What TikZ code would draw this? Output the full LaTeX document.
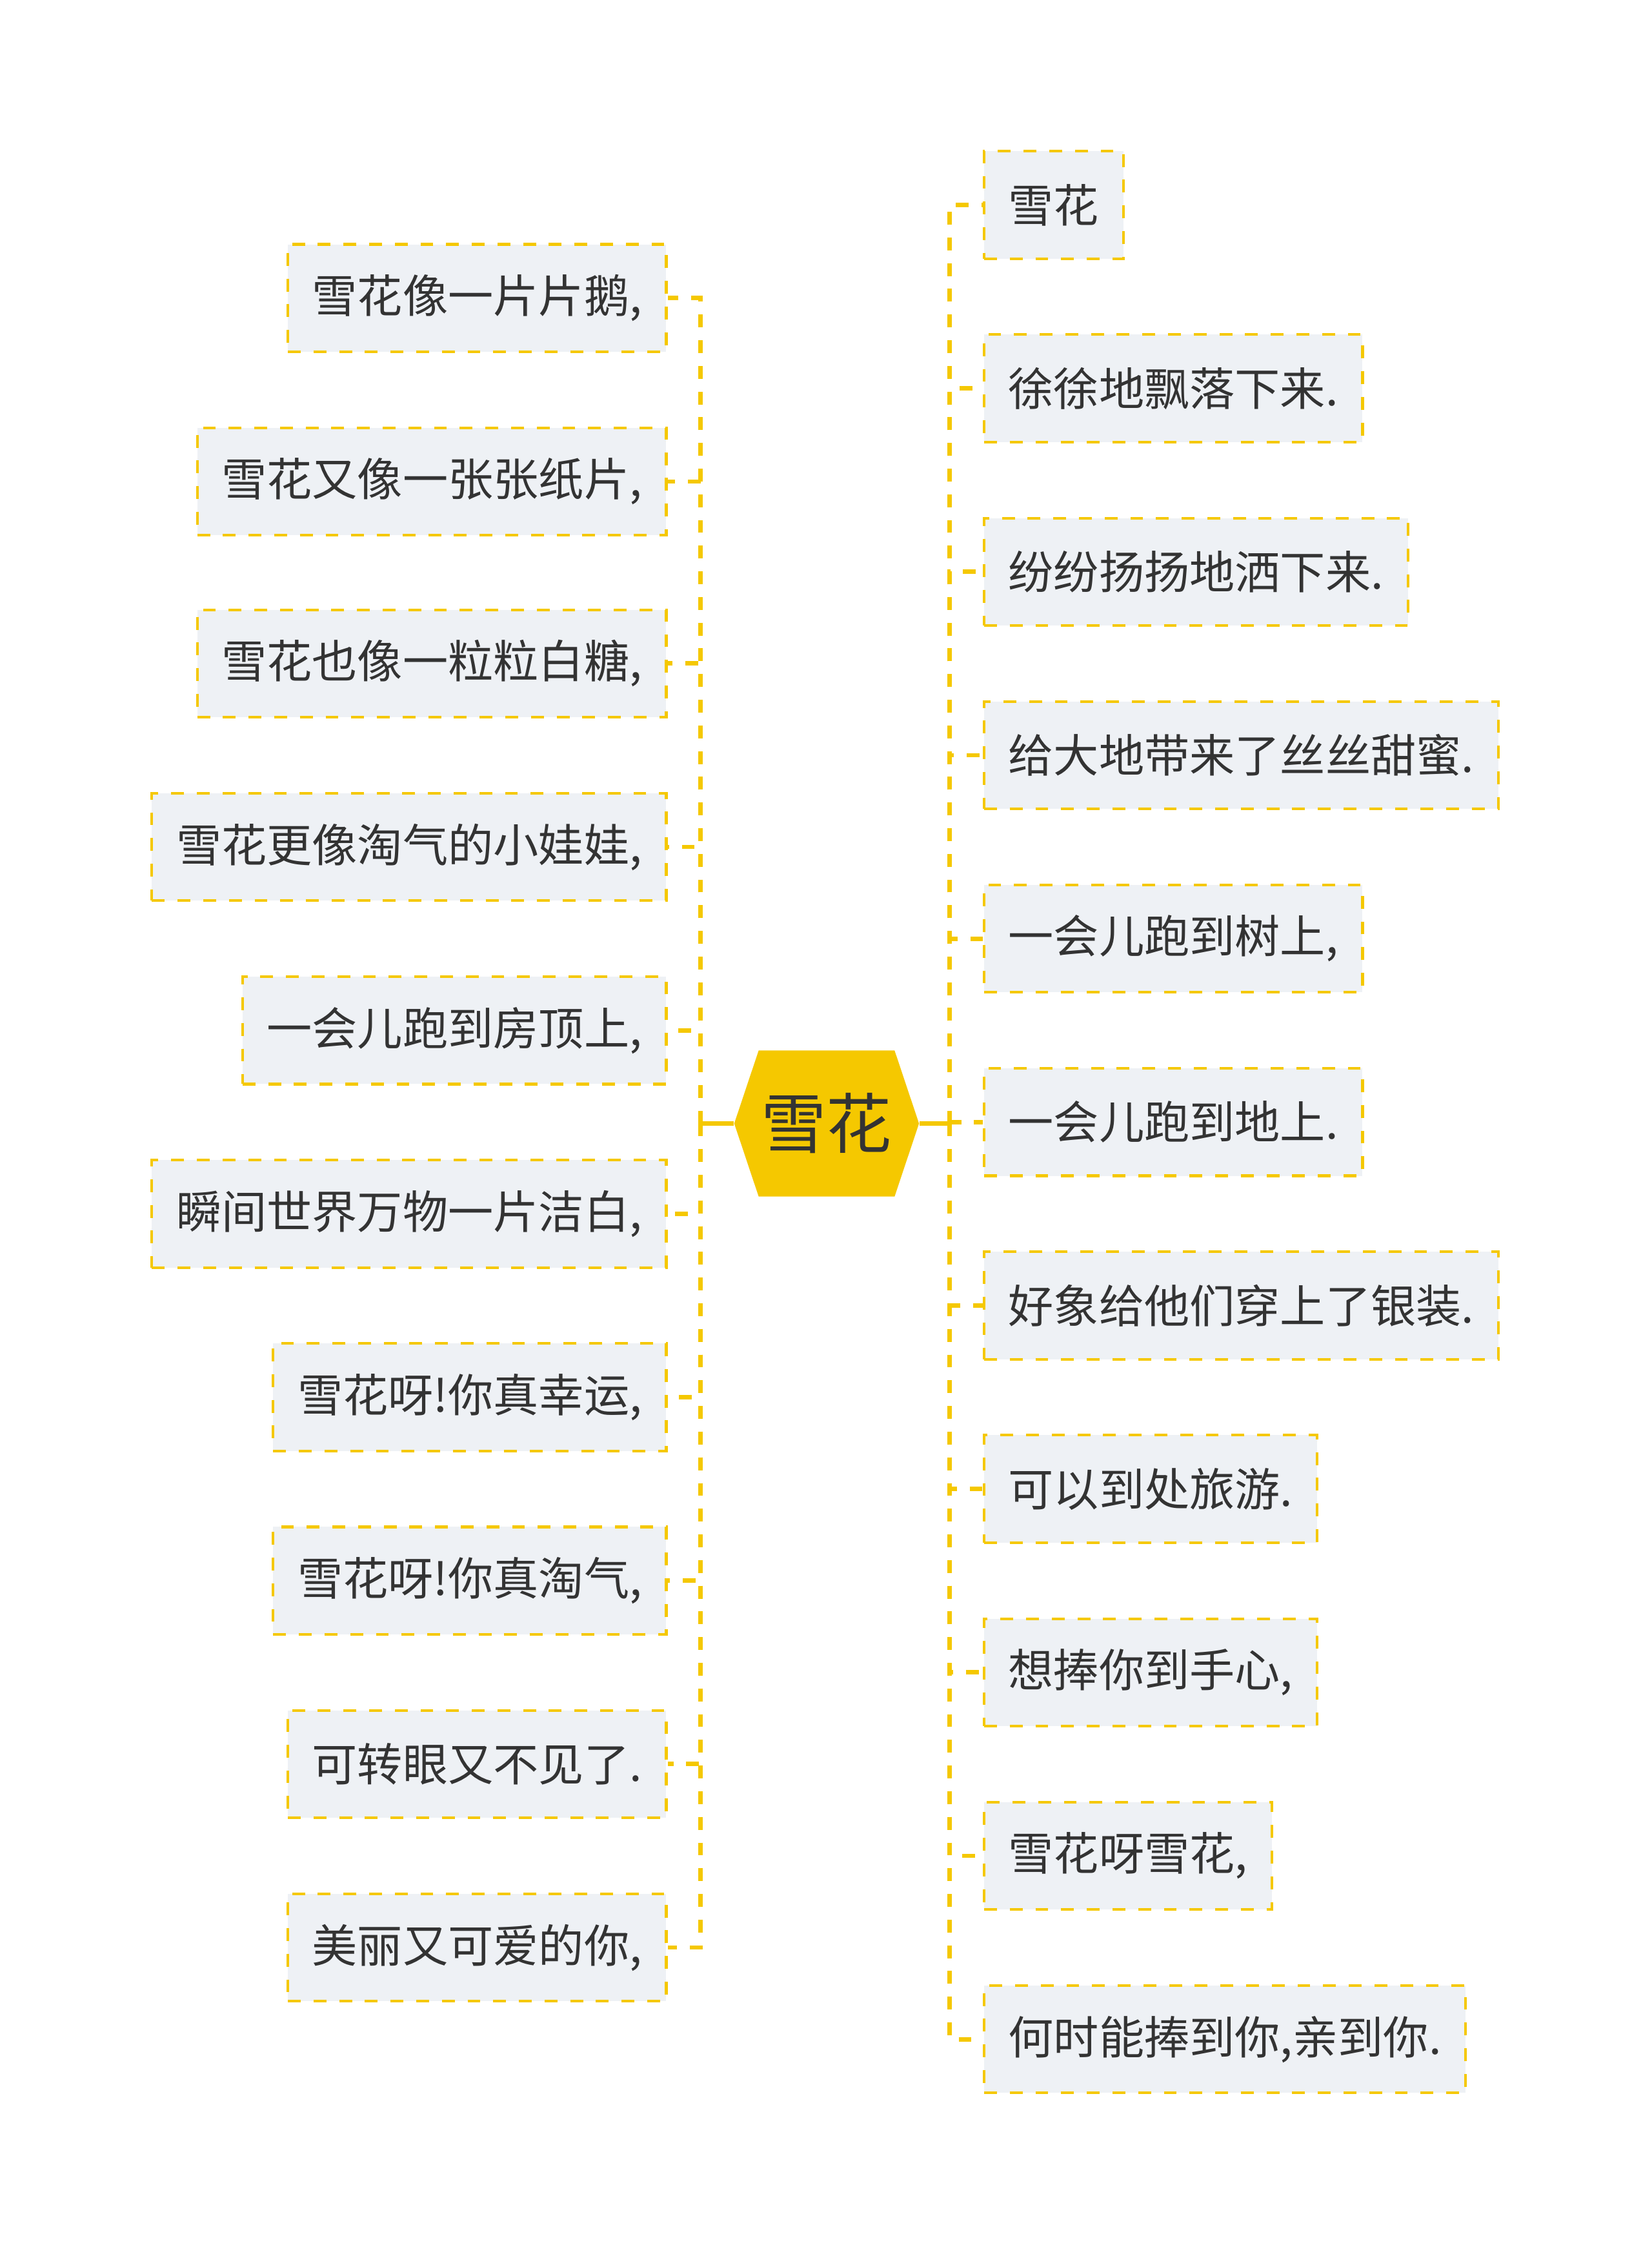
\documentclass[tikz,border=0pt]{standalone}
\usepackage{fontspec}
\setmainfont{Noto Sans CJK SC}
\usetikzlibrary{shapes.symbols}
\definecolor{snowgold}{HTML}{F5C800}
\definecolor{leafgray}{HTML}{EEF1F5}
\definecolor{inkgray}{HTML}{333333}
\tikzstyle{hub} = [signal, signal to=east and west, signal pointer angle=143, minimum width=2.58cm, minimum height=2.04cm, inner sep=0pt, fill=snowgold, text=inkgray, font=\fontsize{26}{30}\selectfont]
\tikzstyle{leaf} = [rectangle, minimum height=1.5cm, inner xsep=0.34cm, inner ysep=0pt, fill=leafgray, draw=snowgold, line width=1.05pt, dash pattern=on 5.1pt off 5.1pt, text=inkgray, font=\fontsize{18}{22}\selectfont]
\tikzstyle{link} = [snowgold, line width=1.75pt]
\tikzstyle{stub} = [link, dash pattern=on 5.1pt off 5.1pt]

\begin{document}
\begin{tikzpicture}[x=0.02cm,y=-0.02cm]
\path[use as bounding box, fill=white] (0,0) rectangle (1153,1568);
\node[hub] (xh) at (577,784) {雪花};
\coordinate (lj) at (489,784);
\coordinate (rj) at (663,784);
%Left side
\node[leaf, anchor=east] (l1) at (466,208) {雪花像一片片鹅,};
\node[leaf, anchor=east] (l2) at (466,336) {雪花又像一张张纸片,};
\node[leaf, anchor=east] (l3) at (466,463) {雪花也像一粒粒白糖,};
\node[leaf, anchor=east] (l4) at (466,591) {雪花更像淘气的小娃娃,};
\node[leaf, anchor=east] (l5) at (466,719) {一会儿跑到房顶上,};
\node[leaf, anchor=east] (l6) at (466,847) {瞬间世界万物一片洁白,};
\node[leaf, anchor=east] (l7) at (466,975) {雪花呀!你真幸运,};
\node[leaf, anchor=east] (l8) at (466,1103) {雪花呀!你真淘气,};
\node[leaf, anchor=east] (l9) at (466,1231) {可转眼又不见了.};
\node[leaf, anchor=east] (l10) at (466,1359) {美丽又可爱的你,};
%Right side
\node[leaf, anchor=west] (r1) at (686,143) {雪花};
\node[leaf, anchor=west] (r2) at (686,271) {徐徐地飘落下来.};
\node[leaf, anchor=west] (r3) at (686,399) {纷纷扬扬地洒下来.};
\node[leaf, anchor=west] (r4) at (686,527) {给大地带来了丝丝甜蜜.};
\node[leaf, anchor=west] (r5) at (686,655) {一会儿跑到树上,};
\node[leaf, anchor=west] (r6) at (686,783) {一会儿跑到地上.};
\node[leaf, anchor=west] (r7) at (686,911) {好象给他们穿上了银装.};
\node[leaf, anchor=west] (r8) at (686,1039) {可以到处旅游.};
\node[leaf, anchor=west] (r9) at (686,1167) {想捧你到手心,};
\node[leaf, anchor=west] (r10) at (686,1295) {雪花呀雪花,};
\node[leaf, anchor=west] (r11) at (686,1423) {何时能捧到你,亲到你.};
%Connectors
\draw[link] (xh.west) -- (lj);
\draw[link] (xh.east) -- (rj);
\foreach \n in {1,...,10} \draw[stub] (lj) |- (l\n.east);
\foreach \n in {1,...,11} \draw[stub] (rj) |- (r\n.west);
\end{tikzpicture}
\end{document}
